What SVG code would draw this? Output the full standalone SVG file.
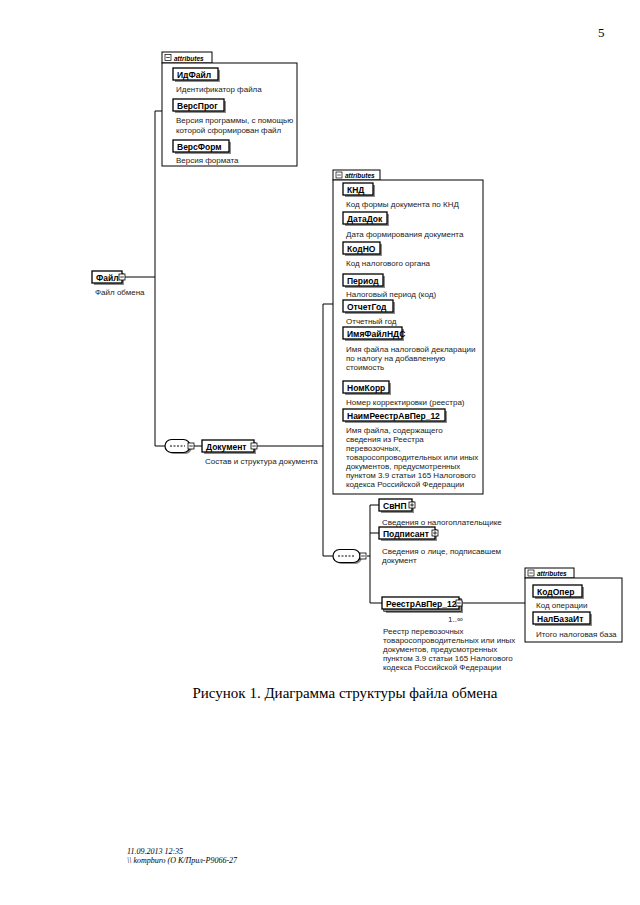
<svg xmlns="http://www.w3.org/2000/svg" xmlns:xlink="http://www.w3.org/1999/xlink" width="640" height="905" viewBox="0 0 640 905">
<defs>
<style>
.el{fill:#fff;stroke:#000;stroke-width:1.3}
.sh{fill:#8c8c8c}
.nm{font-family:"Liberation Sans",Arial,sans-serif;font-weight:bold;font-size:8.5px;fill:#000}
.ds{font-family:"Liberation Sans",Arial,sans-serif;font-size:8px;fill:#222}
.ln{stroke:#000;stroke-width:1;fill:none}
.box{fill:#fff;stroke:#000;stroke-width:1}
.at{font-family:"Liberation Sans",Arial,sans-serif;font-size:6.5px;font-style:italic;font-weight:bold;fill:#000}
.cmp{fill:#fff;stroke:#000;stroke-width:1.2}
.tm{font-family:"Liberation Serif","Times New Roman",serif;fill:#000}
</style>
<g id="mi"><rect x="0" y="0" width="6" height="6" fill="#fff" stroke="#000" stroke-width="0.8"/><path d="M1.2,3H4.8" stroke="#000" stroke-width="0.8"/></g>
<g id="pl"><rect x="0" y="0" width="6" height="6" fill="#fff" stroke="#000" stroke-width="0.8"/><path d="M1.2,3H4.8M3,1.2V4.8" stroke="#000" stroke-width="0.8"/></g>
<g id="ami"><rect x="0" y="0" width="6" height="6" fill="#fff" stroke="#000" stroke-width="0.7"/><path d="M1.2,3H4.8" stroke="#000" stroke-width="0.7"/></g>
</defs>
<rect width="640" height="905" fill="#fff"/>

<text class="tm" x="598" y="37" font-size="13">5</text>

<g id="connectors" class="ln">
<path d="M125,277H155M155,111V446M155,111H162M155,446H165"/>
<path d="M194,446H202M257,446H323M323,304V556M323,304H333M323,556H333"/>
<path d="M367,556H370M370,505V603M370,505H379M370,533H379M370,603H382M462,603H525"/>
</g>

<g id="attrs-file">
<rect class="box" x="162" y="52" width="50" height="11"/>
<use xlink:href="#ami" x="165" y="54.5"/>
<text class="at" x="174" y="60.5">attributes</text>
<rect class="box" x="162" y="63" width="135" height="103"/>
</g>
<g id="IdFile">
<rect class="sh" x="175" y="70" width="45" height="12"/><rect class="el" x="173" y="68" width="45" height="12"/>
<text class="nm" x="177" y="77.5">ИдФайл</text>
<text class="ds" x="176" y="92">Идентификатор файла</text>
</g>
<g id="VersProg">
<rect class="sh" x="175" y="101" width="51" height="12"/><rect class="el" x="173" y="99" width="51" height="12"/>
<text class="nm" x="177" y="108.5">ВерсПрог</text>
<text class="ds" x="176" y="123">Версия программы, с помощью</text>
<text class="ds" x="176" y="133">которой сформирован файл</text>
</g>
<g id="VersForm">
<rect class="sh" x="175" y="142" width="56" height="12"/><rect class="el" x="173" y="140" width="56" height="12"/>
<text class="nm" x="177" y="149.5">ВерсФорм</text>
<text class="ds" x="176" y="163">Версия формата</text>
</g>

<g id="File">
<rect class="sh" x="94" y="273" width="30" height="12"/><rect class="el" x="92" y="271" width="30" height="12"/>
<text class="nm" x="96" y="280.5">Файл</text>
<use xlink:href="#mi" x="119" y="274"/>
<text class="ds" x="95" y="295">Файл обмена</text>
</g>

<g id="seq1">
<rect x="167" y="441" width="25" height="13" rx="6.5" fill="#8c8c8c"/>
<rect class="cmp" x="165" y="439.5" width="25" height="13" rx="6.5"/>
<path d="M170,446H185" stroke="#000" stroke-width="1" stroke-dasharray="2,1.5"/>
<use xlink:href="#mi" x="188" y="443"/>
</g>

<g id="Document">
<rect class="sh" x="204" y="442" width="52" height="12"/><rect class="el" x="202" y="440" width="52" height="12"/>
<text class="nm" x="206" y="449.5">Документ</text>
<use xlink:href="#mi" x="251" y="443"/>
<text class="ds" x="205" y="464">Состав и структура документа</text>
</g>

<g id="attrs-doc">
<rect class="box" x="333" y="170" width="47" height="10"/>
<use xlink:href="#ami" x="336" y="172"/>
<text class="at" x="345" y="178">attributes</text>
<rect class="box" x="333" y="180" width="150" height="314"/>
</g>
<g id="KND">
<rect class="sh" x="345" y="185" width="30" height="12"/><rect class="el" x="343" y="183" width="30" height="12"/>
<text class="nm" x="347" y="192.5">КНД</text>
<text class="ds" x="346" y="207">Код формы документа по КНД</text>
</g>
<g id="DataDok">
<rect class="sh" x="345" y="214" width="44" height="12"/><rect class="el" x="343" y="212" width="44" height="12"/>
<text class="nm" x="347" y="221.5">ДатаДок</text>
<text class="ds" x="346" y="237">Дата формирования документа</text>
</g>
<g id="KodNO">
<rect class="sh" x="345" y="244" width="37" height="12"/><rect class="el" x="343" y="242" width="37" height="12"/>
<text class="nm" x="347" y="251.5">КодНО</text>
<text class="ds" x="346" y="266">Код налогового органа</text>
</g>
<g id="Period">
<rect class="sh" x="345" y="276" width="40" height="12"/><rect class="el" x="343" y="274" width="40" height="12"/>
<text class="nm" x="347" y="283.5">Период</text>
<text class="ds" x="346" y="297">Налоговый период (код)</text>
</g>
<g id="OtchetGod">
<rect class="sh" x="345" y="302" width="50" height="12"/><rect class="el" x="343" y="300" width="50" height="12"/>
<text class="nm" x="347" y="309.5">ОтчетГод</text>
<text class="ds" x="346" y="324">Отчетный год</text>
</g>
<g id="ImyaFailNDS">
<rect class="sh" x="345" y="329" width="59" height="12"/><rect class="el" x="343" y="327" width="59" height="12"/>
<text class="nm" x="347" y="336.5">ИмяФайлНДС</text>
<text class="ds" x="346" y="352">Имя файла налоговой декларации</text>
<text class="ds" x="346" y="361">по налогу на добавленную</text>
<text class="ds" x="346" y="370">стоимость</text>
</g>
<g id="NomKorr">
<rect class="sh" x="345" y="383" width="46" height="12"/><rect class="el" x="343" y="381" width="46" height="12"/>
<text class="nm" x="347" y="390.5">НомКорр</text>
<text class="ds" x="346" y="405">Номер корректировки (реестра)</text>
</g>
<g id="NaimReestrAvPer12">
<rect class="sh" x="345" y="411" width="102" height="12"/><rect class="el" x="343" y="409" width="102" height="12"/>
<text class="nm" x="347" y="418.5">НаимРеестрАвПер_12</text>
<text class="ds" x="346" y="433">Имя файла, содержащего</text>
<text class="ds" x="346" y="442">сведения из Реестра</text>
<text class="ds" x="346" y="451">перевозочных,</text>
<text class="ds" x="346" y="460">товаросопроводительных или иных</text>
<text class="ds" x="346" y="469">документов, предусмотренных</text>
<text class="ds" x="346" y="478">пунктом 3.9 статьи 165 Налогового</text>
<text class="ds" x="346" y="487">кодекса Российской Федерации</text>
</g>

<g id="seq2">
<rect x="335" y="551" width="27" height="13" rx="6.5" fill="#8c8c8c"/>
<rect class="cmp" x="333" y="549.5" width="27" height="13" rx="6.5"/>
<path d="M338,556H355" stroke="#000" stroke-width="1" stroke-dasharray="2,1.5"/>
<use xlink:href="#mi" x="360" y="553"/>
</g>

<g id="SvNP">
<rect class="sh" x="381" y="501" width="33" height="12"/><rect class="el" x="379" y="499" width="33" height="12"/>
<text class="nm" x="383" y="508.5">СвНП</text>
<use xlink:href="#pl" x="409" y="502"/>
<text class="ds" x="382" y="525">Сведения о налогоплательщике</text>
</g>
<g id="Podpisant">
<rect class="sh" x="381" y="529" width="56" height="12"/><rect class="el" x="379" y="527" width="56" height="12"/>
<text class="nm" x="383" y="536.5">Подписант</text>
<use xlink:href="#pl" x="432" y="530"/>
<text class="ds" x="382" y="554">Сведения о лице, подписавшем</text>
<text class="ds" x="382" y="563">документ</text>
</g>
<g id="ReestrAvPer12">
<rect class="sh" x="386" y="601" width="77" height="12"/>
<rect class="el" x="384" y="599" width="77" height="12" stroke-width="0.9"/>
<rect class="sh" x="384" y="599" width="77" height="12"/>
<rect class="el" x="382" y="597" width="77" height="12"/>
<text class="nm" x="386" y="606.5">РеестрАвПер_12</text>
<use xlink:href="#mi" x="456" y="600"/>
<text class="ds" x="448" y="622">1..∞</text>
<text class="ds" x="383" y="634">Реестр перевозочных</text>
<text class="ds" x="383" y="643">товаросопроводительных или иных</text>
<text class="ds" x="383" y="652">документов, предусмотренных</text>
<text class="ds" x="383" y="661">пунктом 3.9 статьи 165 Налогового</text>
<text class="ds" x="383" y="670">кодекса Российской Федерации</text>
</g>

<g id="attrs-reestr">
<rect class="box" x="525" y="568" width="49" height="10"/>
<use xlink:href="#ami" x="528" y="570"/>
<text class="at" x="537" y="576">attributes</text>
<rect class="box" x="525" y="578" width="97" height="64"/>
</g>
<g id="KodOper">
<rect class="sh" x="535" y="587" width="49" height="12"/><rect class="el" x="533" y="585" width="49" height="12"/>
<text class="nm" x="537" y="594.5">КодОпер</text>
<text class="ds" x="536" y="608">Код операции</text>
</g>
<g id="NalBazaIt">
<rect class="sh" x="535" y="614" width="57" height="12"/><rect class="el" x="533" y="612" width="57" height="12"/>
<text class="nm" x="537" y="621.5">НалБазаИт</text>
<text class="ds" x="536" y="637">Итого налоговая база</text>
</g>

<text class="tm" x="345" y="698" font-size="15" text-anchor="middle">Рисунок 1. Диаграмма структуры файла обмена</text>
<text class="tm" x="127" y="854" font-size="8" font-style="italic">11.09.2013 12:35</text>
<text class="tm" x="127" y="863" font-size="8" font-style="italic">\\ kompburo (О К/Прил-Р9066-27</text>
</svg>
